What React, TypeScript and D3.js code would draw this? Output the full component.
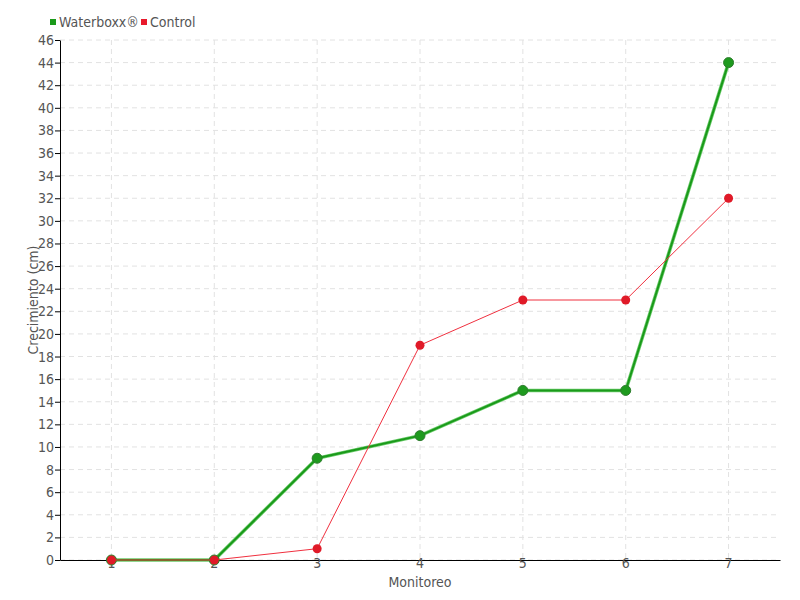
import React, { useRef, useEffect } from "react";
import * as d3 from "d3";

const categories = ["1", "2", "3", "4", "5", "6", "7"];
const waterboxx = [0, 0, 9, 11, 15, 15, 44];
const control = [0, 0, 1, 19, 23, 23, 32];
const yTicks = d3.range(0, 47, 2);

const W = 800;
const H = 600;
const margin = { top: 40, right: 20, bottom: 40, left: 60 };
const font = "'Liberation Sans Narrow', 'DejaVu Sans Condensed', sans-serif";
const textColor = "#555";

const App = () => {
  const svgRef = useRef<SVGSVGElement>(null);

  useEffect(() => {
    const svg = d3.select(svgRef.current);
    svg.selectAll("*").remove();

    const x = d3.scaleBand().domain(categories).range([margin.left, W - margin.right]);
    const y = d3.scaleLinear().domain([0, 46]).range([H - margin.bottom, margin.top]);
    const cx = (c: string) => (x(c) as number) + x.bandwidth() / 2;

    // grid
    const grid = svg.append("g").attr("stroke", "#e2e2e2").attr("stroke-dasharray", "5,4");
    yTicks.forEach((t) => {
      grid.append("line")
        .attr("x1", margin.left).attr("x2", W - margin.right)
        .attr("y1", y(t)).attr("y2", y(t));
    });
    categories.forEach((c) => {
      grid.append("line")
        .attr("x1", cx(c)).attr("x2", cx(c))
        .attr("y1", margin.top).attr("y2", H - margin.bottom);
    });

    // axes
    const yAxis = svg.append("g")
      .attr("transform", `translate(${margin.left},0)`)
      .call(d3.axisLeft(y).tickValues(yTicks).tickSize(5).tickSizeOuter(0));
    yAxis.select(".domain").attr("stroke", "#000");
    yAxis.selectAll("text").style("font-family", font).style("font-size", "14px").attr("fill", textColor).attr("dx", "2");

    const xAxis = svg.append("g")
      .attr("transform", `translate(0,${H - margin.bottom})`)
      .call(d3.axisBottom(x).tickSize(0).tickSizeOuter(0));
    xAxis.select(".domain").attr("stroke", "#000");
    xAxis.selectAll("text").style("font-family", font).style("font-size", "14px").attr("fill", textColor).attr("dy", "0.35em");

    // axis titles
    svg.append("text")
      .attr("x", (margin.left + W - margin.right) / 2)
      .attr("y", 587)
      .attr("text-anchor", "middle")
      .style("font-family", font).style("font-size", "14px").attr("fill", textColor)
      .text("Monitoreo");

    svg.append("text")
      .attr("transform", `translate(38,${(margin.top + H - margin.bottom) / 2}) rotate(-90)`)
      .attr("text-anchor", "middle")
      .style("font-family", font).style("font-size", "14px").attr("fill", textColor)
      .text("Crecimiento (cm)");

    const line = d3.line<number>()
      .x((_, i) => cx(categories[i]))
      .y((d) => y(d));

    // Waterboxx
    svg.append("path").datum(waterboxx)
      .attr("d", line).attr("fill", "none")
      .attr("stroke", "#6ccc6c").attr("stroke-width", 3.5);
    svg.append("path").datum(waterboxx)
      .attr("d", line).attr("fill", "none")
      .attr("stroke", "#1a9a1a").attr("stroke-width", 2);
    svg.append("g").selectAll("circle").data(waterboxx).enter().append("circle")
      .attr("cx", (_, i) => cx(categories[i])).attr("cy", (d) => y(d))
      .attr("r", 5).attr("fill", "#1e9a1e").attr("stroke", "#2e7d2e").attr("stroke-width", 1);

    // Control
    svg.append("path").datum(control)
      .attr("d", line).attr("fill", "none")
      .attr("stroke", "#f0303f").attr("stroke-width", 1);
    svg.append("g").selectAll("circle").data(control).enter().append("circle")
      .attr("cx", (_, i) => cx(categories[i])).attr("cy", (d) => y(d))
      .attr("r", 4.5).attr("fill", "#e01a28");

    // legend
    const legend = [
      { name: "Waterboxx®", color: "#1a9a1a", x: 50 },
      { name: "Control", color: "#e8192c", x: 141 },
    ];
    legend.forEach((l) => {
      svg.append("rect").attr("x", l.x).attr("y", 19).attr("width", 6).attr("height", 6).attr("fill", l.color);
      svg.append("text").attr("x", l.x + 9).attr("y", 27)
        .style("font-family", font).style("font-size", "14px").attr("fill", textColor)
        .text(l.name);
    });
  }, []);

  return <svg ref={svgRef} width={W} height={H} style={{ display: "block", margin: "-8px", background: "#fff" }} />;
};

export default App;
